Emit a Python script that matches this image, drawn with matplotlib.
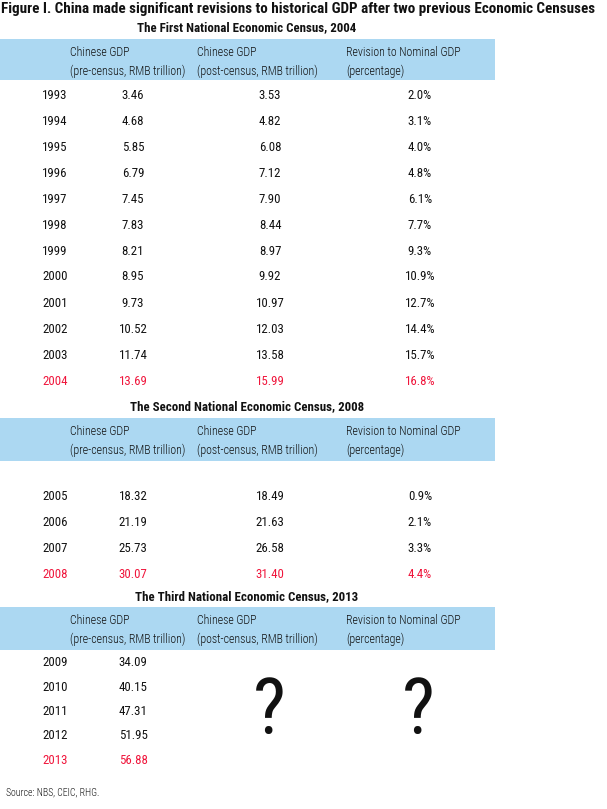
import matplotlib
matplotlib.use("Agg")
import matplotlib.pyplot as plt
from matplotlib import font_manager
from matplotlib.patches import Rectangle

# ---- data ----
years_1 = ["1993", "1994", "1995", "1996", "1997", "1998", "1999", "2000", "2001", "2002", "2003", "2004"]
pre_1 = ["3.46", "4.68", "5.85", "6.79", "7.45", "7.83", "8.21", "8.95", "9.73", "10.52", "11.74", "13.69"]
post_1 = ["3.53", "4.82", "6.08", "7.12", "7.90", "8.44", "8.97", "9.92", "10.97", "12.03", "13.58", "15.99"]
rev_1 = ["2.0%", "3.1%", "4.0%", "4.8%", "6.1%", "7.7%", "9.3%", "10.9%", "12.7%", "14.4%", "15.7%", "16.8%"]

years_2 = ["2005", "2006", "2007", "2008"]
pre_2 = ["18.32", "21.19", "25.73", "30.07"]
post_2 = ["18.49", "21.63", "26.58", "31.40"]
rev_2 = ["0.9%", "2.1%", "3.3%", "4.4%"]

years_3 = ["2009", "2010", "2011", "2012", "2013"]
pre_3 = ["34.09", "40.15", "47.31", "51.95", "56.88"]

section_titles = ["The First National Economic Census, 2004",
                  "The Second National Economic Census, 2008",
                  "The Third National Economic Census, 2013"]
header_1 = ["Chinese GDP", "Chinese GDP", "Revision to Nominal GDP"]
header_2 = ["(pre-census, RMB trillion)", "(post-census, RMB trillion)", "(percentage)"]
main_title = "Figure I. China made significant revisions to historical GDP after two previous Economic Censuses"
source = "Source: NBS, CEIC, RHG."

# ---- style ----
names = {f.name for f in font_manager.fontManager.ttflist}
FONT = "DejaVu Sans"
for cand in ["Roboto Condensed", "Archivo Narrow", "PT Sans Narrow", "Liberation Sans Narrow"]:
    if cand in names:
        FONT = cand
        break
BLUE = "#acd8f2"
RED = "#f0163c"
BLACK = "#111111"

W, H = 607, 809
fig = plt.figure(figsize=(W / 100, H / 100), dpi=100)
ax = fig.add_axes([0, 0, 1, 1])
ax.set_xlim(0, W)
ax.set_ylim(H, 0)
ax.axis("off")


def txt(x, y, s, size=10, ha="center", color=BLACK, weight="normal"):
    ax.text(x, y, s, fontsize=size, ha=ha, va="center", color=color,
            fontweight=weight, family=[FONT, "DejaVu Sans"])


COLX = [55, 133, 270, 420]
HEADX = [70, 197, 346]

txt(1, 9, main_title, size=10.9, ha="left", weight="bold")


def section(title_y, band_top, band_bot, rows_y0, row_step, idx, data):
    txt(247, title_y, section_titles[idx], size=9.3, weight="bold")
    ax.add_patch(Rectangle((0, band_top), 495, band_bot - band_top, color=BLUE, lw=0))
    for i in range(3):
        txt(HEADX[i], band_top + 13, header_1[i], size=8.6, ha="left", weight=300)
        txt(HEADX[i], band_top + 32, header_2[i], size=8.6, ha="left", weight=300)
    n = len(data[0])
    for r in range(n):
        y = rows_y0 + r * row_step
        c = RED if r == n - 1 else BLACK
        for k, col in enumerate(data):
            txt(COLX[k], y, col[r], size=9.3, color=c, weight="normal")


section(28, 39, 80, 95, 26, 0, [years_1, pre_1, post_1, rev_1])
section(407, 418, 461, 496, 26, 1, [years_2, pre_2, post_2, rev_2])
section(597, 607, 650, 663, 24.3, 2, [years_3, pre_3])

txt(269, 713, "?", size=56, weight="normal")
txt(418, 713, "?", size=56, weight="normal")

txt(6, 792, source, size=7, ha="left", weight=300)

fig.savefig("out.png", dpi=100, facecolor="white")
